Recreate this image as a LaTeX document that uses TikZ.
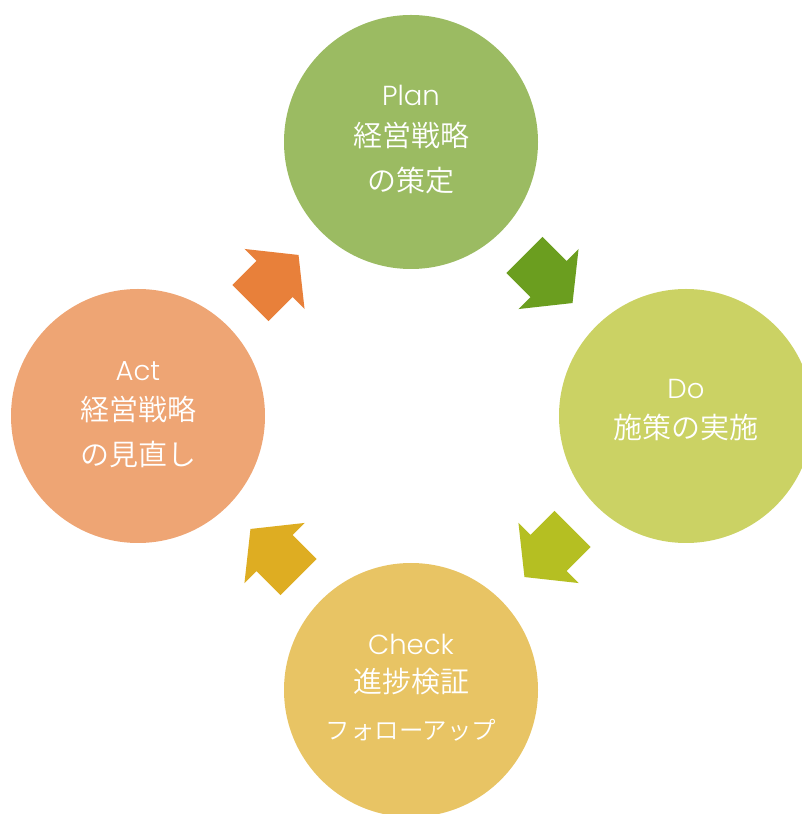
\documentclass[tikz,border=0pt]{standalone}
\usepackage{fontspec}
\setmainfont{Poppins Light}
\newfontfamily\jpfont{Noto Sans CJK JP DemiLight}
\definecolor{cplan}{HTML}{9BBB62}
\definecolor{cdo}{HTML}{CBD264}
\definecolor{ccheck}{HTML}{E8C464}
\definecolor{cact}{HTML}{EEA574}
\definecolor{aone}{HTML}{6B9E1F}
\definecolor{atwo}{HTML}{B5BF22}
\definecolor{athree}{HTML}{DEAD22}
\definecolor{afour}{HTML}{E8803A}
\tikzset{
  stage/.style={circle, minimum size=254pt, inner sep=0pt, draw=none},
  lat/.style={text=white, anchor=base, inner sep=0pt, font=\fontsize{27.5}{31}\selectfont},
  jp/.style={text=white, anchor=base, inner sep=0pt, font=\jpfont\fontsize{29}{33}\selectfont},
  jpsmall/.style={text=white, anchor=base, inner sep=0pt, font=\jpfont\fontsize{24.5}{28}\selectfont},
  blockarrow/.pic={\fill[pic actions] (-34,-25.5) -- (0,-25.5) -- (0,-42.5) -- (34,0) -- (0,42.5) -- (0,25.5) -- (-34,25.5) -- cycle;}
}
\begin{document}
\begin{tikzpicture}[x=1pt,y=1pt]
\useasboundingbox (0,0) rectangle (802,814);
\node[stage, fill=cplan] (plan) at (411,672) {};
\node[stage, fill=cdo] (do) at (686,398) {};
\node[stage, fill=ccheck] (check) at (411,124) {};
\node[stage, fill=cact] (act) at (138,398) {};
% texts
\node[lat] (plan1) at ([yshift=36pt]plan.center) {Plan};
\node[jp] (plan2) at ([yshift=-5pt]plan.center) {経営戦略};
\node[jp] (plan3) at ([yshift=-50pt]plan.center) {の策定};
\node[lat] (do1) at ([yshift=17pt]do.center) {Do};
\node[jp] (do2) at ([yshift=-23pt]do.center) {施策の実施};
\node[lat] (check1) at ([yshift=35pt]check.center) {Check};
\node[jp] (check2) at ([yshift=-3pt]check.center) {進捗検証};
\node[jpsmall] (check3) at ([yshift=-50pt]check.center) {フォローアップ};
\node[lat] (act1) at ([yshift=35pt]act.center) {Act};
\node[jp] (act2) at ([yshift=-5pt]act.center) {経営戦略};
\node[jp] (act3) at ([yshift=-50pt]act.center) {の見直し};
% arrows
\path (plan.center) -- (do.center) coordinate[pos=0.5] (m1);
\path (do.center) -- (check.center) coordinate[pos=0.5] (m2);
\path (check.center) -- (act.center) coordinate[pos=0.5] (m3);
\path (act.center) -- (plan.center) coordinate[pos=0.5] (m4);
\pic[fill=aone, rotate=-45] at (m1) {blockarrow};
\pic[fill=atwo, rotate=-135] at (m2) {blockarrow};
\pic[fill=athree, rotate=135] at (m3) {blockarrow};
\pic[fill=afour, rotate=45] at (m4) {blockarrow};
\end{tikzpicture}
\end{document}
